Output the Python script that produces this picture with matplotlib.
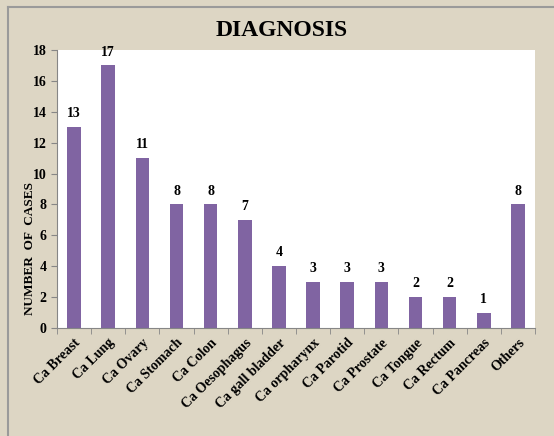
import numpy as np
import matplotlib.pyplot as plt
from matplotlib.ticker import MultipleLocator

# data
categories = ['Ca Breast', 'Ca Lung', 'Ca Ovary', 'Ca Stomach', 'Ca Colon', 'Ca Oesophagus',
              'Ca gall bladder', 'Ca orpharynx', 'Ca Parotid', 'Ca Prostate', 'Ca Tongue',
              'Ca Rectum', 'Ca Pancreas', 'Others']
cases = [13, 17, 11, 8, 8, 7, 4, 3, 3, 3, 2, 2, 1, 8]

plt.rcParams['font.family'] = 'Liberation Serif'
plt.rcParams['font.weight'] = 'bold'

bg = '#DDD6C4'
fig = plt.figure(figsize=(5.54, 4.36), dpi=100, facecolor=bg)
W, H = 554, 436
ax = fig.add_axes([57 / W, 1 - 328 / H, (535 - 57) / W, (328 - 50) / H])

x = np.arange(len(categories))
ax.bar(x, cases, width=0.4, color='#8064A2')
for xi, v in zip(x, cases):
    ax.annotate(str(v), (xi, v), xytext=(0, 5), textcoords='offset points',
                ha='center', va='bottom', fontsize=10, fontweight='bold')

ax.set_xlim(-0.5, len(categories) - 0.5)
ax.set_ylim(0, 18)
ax.yaxis.set_major_locator(MultipleLocator(2))
ax.set_xticks(x)
ax.set_xticklabels(categories, rotation=45, ha='right', rotation_mode='anchor',
                   fontsize=10, fontweight='bold')
ax.set_xticks(np.arange(-0.5, len(categories)), minor=True)
ax.tick_params(axis='x', which='major', length=0, pad=6)
ax.tick_params(axis='x', which='minor', length=4, color='#868686')
ax.tick_params(axis='y', length=4, color='#868686', labelsize=10)
for lbl in ax.get_yticklabels():
    lbl.set_fontweight('bold')

for s in ['top', 'right']:
    ax.spines[s].set_visible(False)
for s in ['left', 'bottom']:
    ax.spines[s].set_color('#868686')

fig.text(30 / W, 1 - 248 / H, 'NUMBER  OF  CASES', rotation=90, ha='center', va='center',
         fontsize=9.5, fontweight='bold')
fig.text(282 / W, 1 - 30 / H, 'DIAGNOSIS', ha='center', va='center',
         fontsize=17, fontweight='bold')

# frame line on left and top
fig.add_artist(plt.Line2D([8 / W, 8 / W], [0, 1 - 7 / H], transform=fig.transFigure,
                          color='#9A9A9A', lw=1.5))
fig.add_artist(plt.Line2D([8 / W, 1], [1 - 7 / H, 1 - 7 / H], transform=fig.transFigure,
                          color='#9A9A9A', lw=1.5))

fig.savefig('out.png', dpi=100, facecolor=bg)
